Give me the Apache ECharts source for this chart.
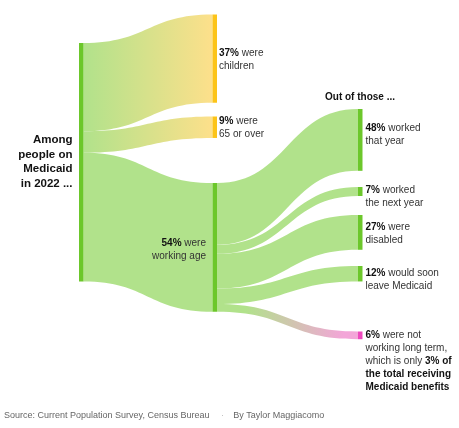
<!DOCTYPE html>
<html><head><meta charset="utf-8">
<script src="https://cdn.jsdelivr.net/npm/echarts@6/dist/echarts.min.js"></script>
<style>html,body{margin:0;padding:0;background:#fff}#c{width:459px;height:428px}</style>
</head><body><div id="c"></div>
<script>
// ---------- data ----------
const rootName = 'Among people on Medicaid in 2022 ...';
const rootLabel = 'Among\npeople on\nMedicaid\nin 2022 ...';
const groupNames = ['Children', '65 or over', 'Working age'];
const groupShares = [37, 9, 54];              // % of all people on Medicaid
const groupLabels = ['{b|37%} were\nchildren', '{b|9%} were\n65 or over', '{b|54%} were\nworking age'];
const outcomeNames = ['Worked that year', 'Worked the next year', 'Disabled', 'Would soon leave Medicaid', 'Not working long term'];
const outcomeShares = [48, 7, 27, 12, 6];     // % of working-age people
const outcomeLabels = [
  '{b|48%} worked\nthat year',
  '{b|7%} worked\nthe next year',
  '{b|27%} were\ndisabled',
  '{b|12%} would soon\nleave Medicaid',
  '{b|6%} were not\nworking long term,\nwhich is only {b|3% of}\n{b|the total receiving}\n{b|Medicaid benefits}'
];
const headerText = 'Out of those ...';
const sourceText = 'Source: Current Population Survey, Census Bureau';
const bylineText = 'By Taylor Maggiacomo';

// ---------- layout / style ----------
const W = 459, H = 338.5, GAP = 50, NW = 4.5;
const rootPos = [79, 43];
const groupX = 212.5, groupY = [14.5, 116.5, 183];
const outX = 358, outY = [109, 187, 215, 266, 331.5];
const rootLabelDy = 118.9;
const groupLabelDy = [45.5, 10.8, 66.5];
const outLabelDy = [25.5, 9.5, 18.7, 13.7, 29.8];

const GREEN = '#6cc72b', LGREEN = '#b1e28b';
const YELLOW = '#fcc419', LYELLOW = '#fde08b';
const PINK = '#ee48bd', LPINK = '#f3a5d8';
const groupColors = [YELLOW, YELLOW, GREEN];
const groupLinkEnd = [LYELLOW, LYELLOW, LGREEN];
const outColors = [GREEN, GREEN, GREEN, GREEN, PINK];
const outLinkEnd = [LGREEN, LGREEN, LGREEN, LGREEN, LPINK];

const FONT = '"Liberation Sans", Arial, sans-serif';
const rich = { b: { fontWeight: 'bold', color: '#121212', fontSize: 10, lineHeight: 13, fontFamily: FONT } };

function grad(end, pinkish) {
  const stops = pinkish
    ? [{offset: 0, color: LGREEN}, {offset: 0.2, color: LGREEN}, {offset: 0.9, color: end}, {offset: 1, color: end}]
    : [{offset: 0, color: LGREEN}, {offset: 1, color: end}];
  return new echarts.graphic.LinearGradient(0, 0, 1, 0, stops);
}

const nodes = [];
nodes.push({
  name: rootName, localX: rootPos[0] / W, localY: rootPos[1] / H,
  itemStyle: { color: GREEN },
  label: { position: [-6.5, rootLabelDy], align: 'right', verticalAlign: 'middle',
    formatter: rootLabel, fontSize: 11.5, fontWeight: 'bold', lineHeight: 14.5, color: '#121212', fontFamily: FONT }
});
groupNames.forEach((n, i) => {
  const isLeft = i === 2;
  nodes.push({
    name: n, localX: groupX / W, localY: groupY[i] / H,
    itemStyle: { color: groupColors[i] },
    label: { position: isLeft ? [-6.5, groupLabelDy[i]] : [NW + 2, groupLabelDy[i]],
      align: isLeft ? 'right' : 'left', verticalAlign: 'middle',
      formatter: groupLabels[i], fontSize: 10, lineHeight: 13, color: '#333', fontFamily: FONT, rich }
  });
});
outcomeNames.forEach((n, i) => {
  nodes.push({
    name: n, localX: outX / W, localY: outY[i] / H,
    itemStyle: { color: outColors[i] },
    label: { position: [NW + 3, outLabelDy[i]], align: 'left', verticalAlign: 'middle',
      formatter: outcomeLabels[i], fontSize: 10, lineHeight: 13, color: '#333', fontFamily: FONT, rich }
  });
});

const links = [];
groupNames.forEach((n, i) => {
  links.push({ source: rootName, target: n, value: groupShares[i], lineStyle: { color: grad(groupLinkEnd[i], false), opacity: 1 } });
});
outcomeNames.forEach((n, i) => {
  links.push({ source: groupNames[2], target: n, value: groupShares[2] * outcomeShares[i] / 100,
    lineStyle: { color: grad(outLinkEnd[i], i === 4), opacity: 1 } });
});

const chart = echarts.init(document.getElementById('c'), null, { renderer: 'canvas' });
chart.setOption({
  animation: false,
  backgroundColor: '#fff',
  textStyle: { fontFamily: FONT },
  series: [{
    type: 'sankey',
    left: 0, top: 0, width: W, height: H,
    nodeWidth: NW, nodeGap: GAP,
    nodeAlign: 'left',
    layoutIterations: 0,
    draggable: false,
    emphasis: { disabled: true },
    itemStyle: { borderWidth: 0 },
    lineStyle: { curveness: 0.5, opacity: 1 },
    data: nodes,
    links: links
  }],
  graphic: [
    { type: 'text', x: 325, y: 97, style: { text: headerText, font: 'bold 10px ' + FONT, fill: '#121212', verticalAlign: 'middle' } },
    { type: 'text', x: 4, y: 415.3, style: { text: sourceText, font: '9px ' + FONT, fill: '#666', verticalAlign: 'middle' } },
    { type: 'text', x: 221, y: 415.3, style: { text: '·', font: '9px ' + FONT, fill: '#bbb', verticalAlign: 'middle' } },
    { type: 'text', x: 233.3, y: 415.3, style: { text: bylineText, font: '9px ' + FONT, fill: '#666', verticalAlign: 'middle' } }
  ]
});
</script></body></html>
